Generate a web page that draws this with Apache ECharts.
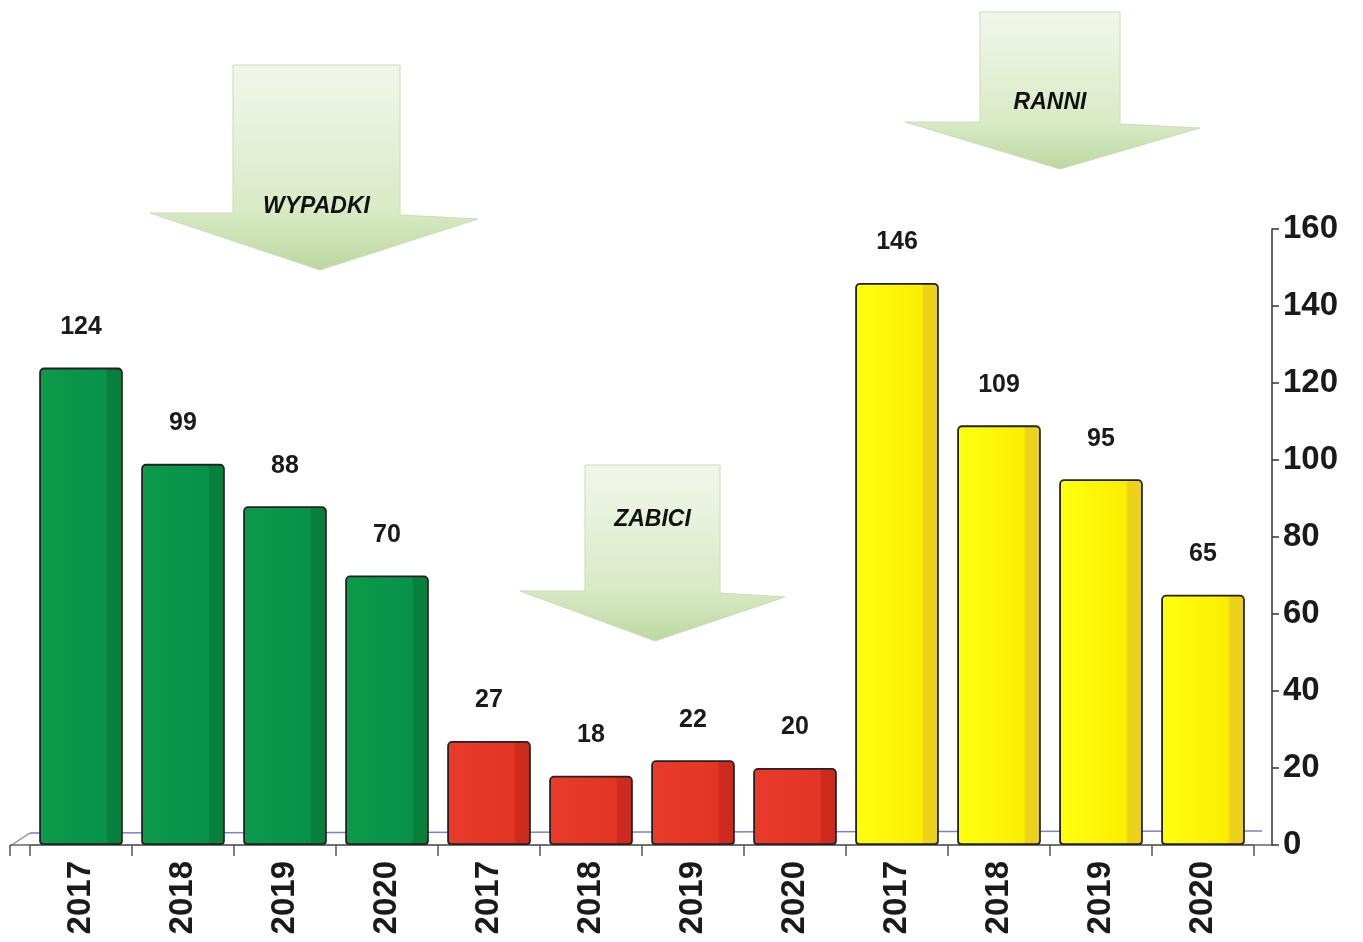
<!DOCTYPE html>
<html>
<head>
<meta charset="utf-8">
<style>
  html, body { margin: 0; padding: 0; background: #fff; }
  #chart { width: 1363px; height: 942px; }
</style>
<script src="https://cdn.jsdelivr.net/npm/echarts@6/dist/echarts.min.js"></script>
</head>
<body>
<div id="chart"></div>
<script>
// lata (powtarzane dla trzech grup)
const years = ['2017', '2018', '2019', '2020'];
const wypadki = [124, 99, 88, 70];
const zabici = [27, 18, 22, 20];
const ranni = [146, 109, 95, 65];
const yTicks = [0, 20, 40, 60, 80, 100, 120, 140, 160];

const categories = years.concat(years, years);
const FONT = '"Liberation Sans", Arial, sans-serif';

// pasek z lekkim efektem 3D - jasny przod, ciemniejszy bok
const grad = (a, b, c) => new echarts.graphic.LinearGradient(0, 0, 1, 0, [
    { offset: 0, color: a },
    { offset: 0.8, color: b },
    { offset: 0.82, color: c },
    { offset: 1, color: c }
]);

const pad = (arr, before, after) =>
    Array(before).fill('-').concat(arr, Array(after).fill('-'));

const labelStyle = {
    show: true, position: 'top', distance: 28,
    fontFamily: FONT, fontWeight: 'bold', fontSize: 25, color: '#1a1a1a'
};

const mkSeries = (name, data, fill) => ({
    name: name, type: 'bar', stack: 'all', data: data,
    barWidth: '82%',
    itemStyle: { color: fill, borderColor: '#222', borderWidth: 1.8, borderRadius: [4, 4, 3, 3] },
    label: labelStyle
});

// strzalki z opisami grup
const arrow = (x, y, w, h, headL, headR, headH, tipX, text, textY) => ({
    type: 'group', x: x, y: y, z: 0,
    children: [
        { type: 'polygon',
          shape: { points: [[0, 0], [w, 0], [w, h], [headR, h + 4], [tipX, h + headH], [headL, h - 2], [0, h - 2]] },
          style: { fill: new echarts.graphic.LinearGradient(0, 0, 0, 1, [
              { offset: 0, color: '#f1f7ea' }, { offset: 0.7, color: '#d9eac6' }, { offset: 1, color: '#bcd8a0' }]),
              stroke: '#cadcb8', lineWidth: 1 } },
        { type: 'text', x: w / 2, y: textY,
          style: { text: text, fontFamily: FONT, fontWeight: 'bold', fontStyle: 'italic',
                   fontSize: 23, fill: '#111', align: 'center', verticalAlign: 'middle' } }
    ]
});

const chart = echarts.init(document.getElementById('chart'));
chart.setOption({
    backgroundColor: '#fff',
    animation: false,
    grid: { left: 30, right: 109, top: 229, bottom: 97 },
    xAxis: {
        type: 'category', data: categories,
        axisLine: { lineStyle: { color: '#666', width: 1.5 } },
        axisTick: { show: true, length: 11, lineStyle: { color: '#555', width: 1.5 } },
        axisLabel: { rotate: 90, fontFamily: FONT, fontWeight: 'bold', fontSize: 33, color: '#1a1a1a', margin: 16 }
    },
    yAxis: {
        type: 'value', position: 'right', offset: 18, min: 0, max: 160, interval: 20,
        axisLine: { show: true, lineStyle: { color: '#333', width: 1.5 } },
        axisTick: { show: true, length: 7, lineStyle: { color: '#333', width: 1.5 } },
        splitLine: { show: false },
        axisLabel: {
            fontFamily: FONT, fontWeight: 'bold', fontSize: 33, color: '#1a1a1a', margin: 11,
            formatter: v => yTicks.includes(v) ? String(v) : ''
        }
    },
    series: [
        mkSeries('Wypadki', pad(wypadki, 0, 8), grad('#0c9a4a', '#08924a', '#07803c')),
        mkSeries('Zabici', pad(zabici, 4, 4), grad('#ea3a2c', '#e43426', '#cc2a1c')),
        mkSeries('Ranni', pad(ranni, 8, 0), grad('#ffff10', '#fbee00', '#ecd21a'))
    ],
    graphic: [
        // podloga: tylna i przednia krawedz
        { type: 'line', shape: { x1: 30, y1: 833, x2: 1262, y2: 831 }, z: -1,
          style: { stroke: '#7c80c8', lineWidth: 1.4 } },
        { type: 'line', shape: { x1: 10, y1: 846, x2: 30, y2: 833 }, z: -1,
          style: { stroke: '#888', lineWidth: 1.2 } },
        { type: 'line', shape: { x1: 10, y1: 845, x2: 1272, y2: 845 }, z: -1,
          style: { stroke: '#666', lineWidth: 1.5 } },
        { type: 'line', shape: { x1: 10, y1: 845, x2: 10, y2: 856 }, z: -1,
          style: { stroke: '#555', lineWidth: 1.5 } },
        arrow(233, 65, 167, 150, -83, 245, 55, 87, 'WYPADKI', 142),
        arrow(585, 465, 135, 128, -65, 200, 48, 70, 'ZABICI', 55),
        arrow(980, 12, 140, 112, -75, 220, 45, 80, 'RANNI', 91)
    ]
});
</script>
</body>
</html>
